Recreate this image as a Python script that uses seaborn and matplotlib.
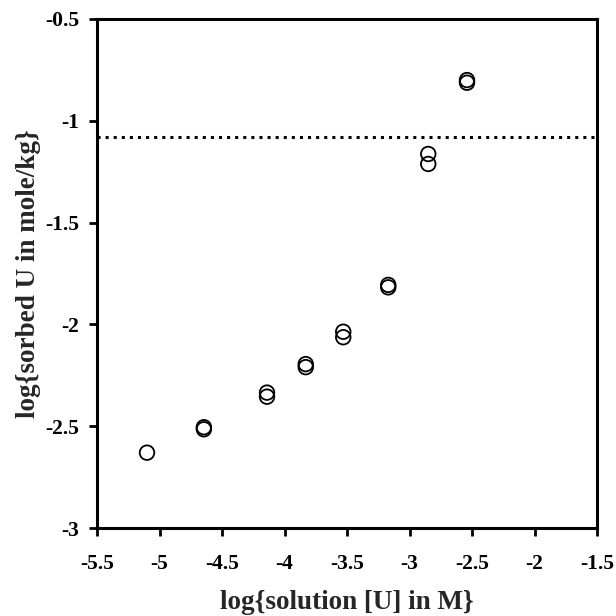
import matplotlib
matplotlib.use("Agg")
import matplotlib.pyplot as plt
import seaborn as sns
import pandas as pd

log_solution_U = [-5.10, -4.645, -4.645, -4.14, -4.14, -3.83, -3.83,
                  -3.53, -3.53, -3.17, -3.17, -2.85, -2.85, -2.54, -2.54]
log_sorbed_U = [-2.63, -2.505, -2.515, -2.335, -2.355, -2.195, -2.21,
                -2.036, -2.063, -1.806, -1.818, -1.163, -1.212, -0.80, -0.813]
threshold = -1.078
x_ticks = [-5.5, -5, -4.5, -4, -3.5, -3, -2.5, -2, -1.5]
y_ticks = [-3, -2.5, -2, -1.5, -1, -0.5]

sns.set_style("ticks")
plt.rcParams['font.family'] = ['Liberation Serif', 'DejaVu Serif']
plt.rcParams['font.weight'] = 'bold'

df = pd.DataFrame({"x": log_solution_U, "y": log_sorbed_U})

fig = plt.figure(figsize=(6.16, 6.16), dpi=100)
ax = fig.add_axes([97/616, 88/616, 500/616, 509/616])

sns.scatterplot(data=df, x="x", y="y", ax=ax, marker="o", s=110,
                facecolor="none", edgecolor="black", linewidth=1.3, zorder=3)
ax.axhline(threshold, color="black", linestyle=":", linewidth=2.2)

ax.set_xlim(-5.5, -1.5)
ax.set_ylim(-3, -0.5)
ax.set_xticks(x_ticks)
ax.set_yticks(y_ticks)
ax.set_xticklabels([f"{t:g}" for t in x_ticks], fontsize=15.5, fontweight="bold")
ax.set_yticklabels([f"{t:g}" for t in y_ticks], fontsize=15.5, fontweight="bold")
ax.set_xlabel("log{solution [U] in M}", fontsize=19.5, fontweight="bold", labelpad=11)
ax.set_ylabel("log{sorbed U in mole/kg}", fontsize=19.5, fontweight="bold", labelpad=3)

for sp in ax.spines.values():
    sp.set_linewidth(2.2)
    sp.set_color("black")
ax.tick_params(axis="x", direction="out", length=6, width=2, colors="black", pad=13)
ax.tick_params(axis="y", direction="out", length=6, width=2, colors="black", pad=7)

fig.savefig("out.png", dpi=100)
